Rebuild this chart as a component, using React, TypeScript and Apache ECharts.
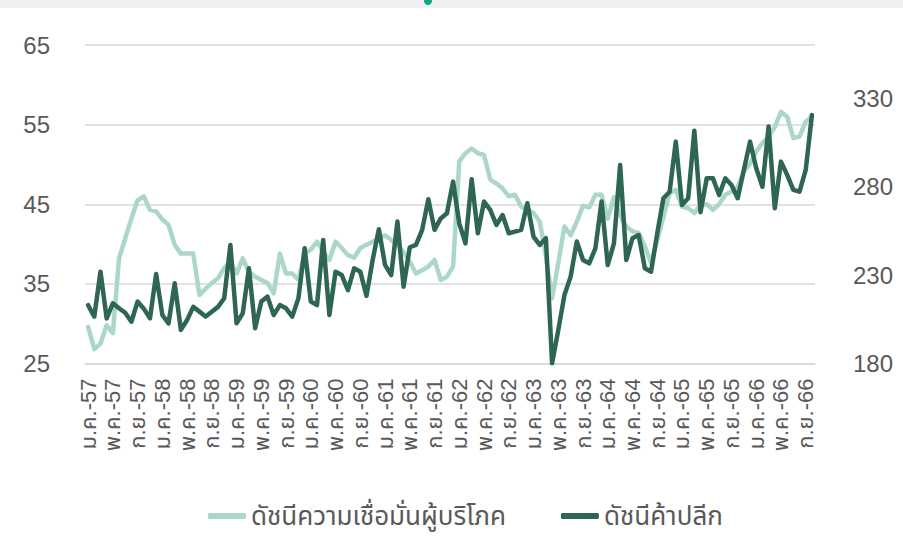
import React, { useEffect, useRef } from "react";
import * as echarts from "echarts";

const thaiMonths = ["ม.ค.", "ก.พ.", "มี.ค.", "เม.ย.", "พ.ค.", "มิ.ย.", "ก.ค.", "ส.ค.", "ก.ย.", "ต.ค.", "พ.ย.", "ธ.ค."];
const years = ["57", "58", "59", "60", "61", "62", "63", "64", "65", "66"];
const lastMonthCount = 10; // ม.ค.-66 .. ต.ค.-66

const categories: string[] = [];
years.forEach((y, yi) => {
  const n = yi === years.length - 1 ? lastMonthCount : 12;
  for (let m = 0; m < n; m++) categories.push(`${thaiMonths[m]}-${y}`);
});

// ดัชนีความเชื่อมั่นผู้บริโภค (left axis)
const consumerConfidence = [
  29.6, 26.8, 27.5, 29.8, 28.8, 38.2, 40.7, 43.2, 45.5, 46.0,
  44.3, 44.1, 43.1, 42.4, 39.9, 38.8, 38.8, 38.8, 33.6, 34.4,
  35.1, 35.7, 37.0, 37.8, 36.3, 38.2, 36.5, 35.9, 35.5, 35.1,
  33.8, 38.8, 36.3, 36.3, 35.5, 38.8, 39.3, 40.3, 39.0, 38.0,
  40.3, 39.5, 38.6, 38.3, 39.5, 39.9, 40.3, 40.7, 41.1, 40.5,
  39.9, 39.0, 37.8, 36.3, 36.7, 37.2, 38.0, 35.5, 35.9, 37.2,
  50.4, 51.4, 52.0, 51.4, 51.2, 48.1, 47.6, 47.0, 46.0, 46.2,
  44.7, 44.3, 43.9, 42.8, 38.5, 33.2, 37.6, 42.2, 41.1, 42.8,
  44.8, 44.6, 46.2, 46.2, 43.2, 45.9, 43.6, 42.2, 41.6, 41.4,
  39.7, 37.6, 40.5, 43.4, 46.4, 46.8, 44.7, 44.5, 43.9, 44.9,
  45.0, 44.3, 45.0, 46.2, 46.6, 47.2, 49.1, 50.1, 51.6, 52.7,
  53.5, 54.7, 56.6, 56.0, 53.3, 53.5, 55.4, 56.0,
];

// ดัชนีค้าปลีก (right axis)
const retailIndex = [
  213.0, 206.5, 231.9, 205.5, 214.0, 211.2, 208.7, 203.6, 215.0, 211.0,
  205.5, 230.6, 207.4, 202.7, 225.3, 199.0, 204.6, 212.0, 209.3, 206.5,
  209.3, 212.0, 216.9, 247.0, 202.7, 208.4, 233.8, 199.9, 215.0, 217.8,
  207.4, 213.0, 211.2, 206.5, 216.9, 245.1, 215.0, 213.0, 249.8, 207.4,
  231.9, 230.0, 221.5, 233.8, 231.9, 218.2, 238.5, 255.9, 235.7, 230.0,
  260.2, 223.4, 245.7, 247.0, 255.5, 272.8, 255.5, 262.0, 264.9, 282.8,
  259.2, 247.9, 284.1, 253.6, 271.5, 266.8, 258.3, 263.9, 253.6, 254.5,
  255.5, 270.6, 251.7, 247.0, 250.8, 180.1, 198.9, 218.7, 229.1, 249.0,
  238.5, 236.6, 245.1, 271.5, 235.7, 247.9, 292.2, 238.5, 250.8, 252.6,
  233.8, 231.9, 253.6, 273.4, 277.1, 305.4, 269.6, 273.4, 311.5, 265.5,
  284.7, 284.7, 275.2, 284.7, 280.9, 273.4, 289.4, 305.4, 290.3, 279.9,
  313.9, 267.7, 294.1, 286.6, 278.1, 277.1, 289.4, 320.5,
];

const seriesNames = ["ดัชนีความเชื่อมั่นผู้บริโภค", "ดัชนีค้าปลีก"];

const LIGHT = "#abd8c6";
const DARK = "#2f6553";
const TEXT = "#595959";
const FONT = "'Liberation Sans', Arial, 'Noto Sans Thai', Tahoma, sans-serif";

export default function App() {
  const ref = useRef<HTMLDivElement>(null);

  useEffect(() => {
    if (!ref.current) return;
    const chart = echarts.init(ref.current, undefined, { renderer: "svg" });
    chart.setOption({
      animation: false,
      backgroundColor: "#ffffff",
      textStyle: { fontFamily: FONT },
      graphic: [
        { type: "rect", shape: { x: 0, y: 0, width: 903, height: 8 }, style: { fill: "#eef1f1" }, silent: true },
        { type: "circle", shape: { cx: 428, cy: 1, r: 4 }, style: { fill: "#16a486" }, silent: true },
      ],
      grid: { left: 85, right: 88, top: 45, bottom: 195.5, containLabel: false },
      legend: {
        data: seriesNames,
        left: 203,
        top: 498,
        itemWidth: 38,
        itemHeight: 6,
        itemGap: 55,
        icon: "roundRect",
        textStyle: { color: TEXT, fontSize: 26, fontFamily: FONT },
      },
      xAxis: {
        type: "category",
        data: categories,
        boundaryGap: true,
        axisLine: { show: true, lineStyle: { color: "#d9d9d9", width: 1.5 } },
        axisTick: { show: false },
        axisLabel: {
          interval: 3,
          rotate: 90,
          color: TEXT,
          fontSize: 22,
          margin: 15,
          fontFamily: FONT,
        },
      },
      yAxis: [
        {
          type: "value",
          min: 25,
          max: 65,
          interval: 10,
          position: "left",
          axisLine: { show: false },
          axisTick: { show: false },
          splitLine: { show: true, lineStyle: { color: "#d9d9d9", width: 1.5 } },
          axisLabel: { color: TEXT, fontSize: 24, margin: 35, fontFamily: FONT },
        },
        {
          type: "value",
          min: 180,
          max: 360,
          interval: 50,
          position: "right",
          axisLine: { show: false },
          axisTick: { show: false },
          splitLine: { show: false },
          axisLabel: { color: TEXT, fontSize: 24, margin: 38, showMaxLabel: false, fontFamily: FONT },
        },
      ],
      series: [
        {
          name: seriesNames[0],
          type: "line",
          yAxisIndex: 0,
          data: consumerConfidence,
          symbol: "none",
          itemStyle: { color: LIGHT },
          lineStyle: { color: LIGHT, width: 4.5, join: "round", cap: "round" },
          z: 2,
        },
        {
          name: seriesNames[1],
          type: "line",
          yAxisIndex: 1,
          data: retailIndex,
          symbol: "none",
          itemStyle: { color: DARK },
          lineStyle: { color: DARK, width: 4.5, join: "round", cap: "round" },
          z: 3,
        },
      ],
    });
    return () => chart.dispose();
  }, []);

  return (
    <div
      ref={ref}
      style={{ position: "fixed", left: 0, top: 0, width: 903, height: 559, background: "#fff" }}
    />
  );
}
